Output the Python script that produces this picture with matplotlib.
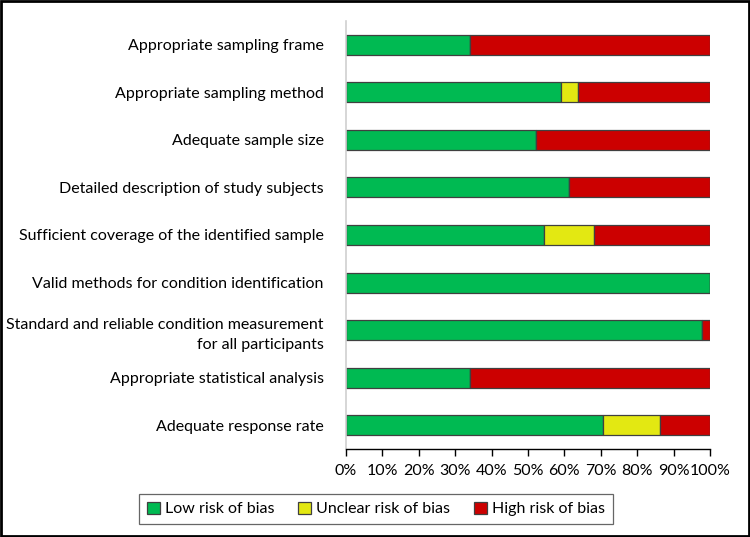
import matplotlib
matplotlib.use("Agg")
import matplotlib.pyplot as plt
from matplotlib.patches import Rectangle

# items of the risk-of-bias tool, top to bottom
categories = [
    "Appropriate sampling frame",
    "Appropriate sampling method",
    "Adequate sample size",
    "Detailed description of study subjects",
    "Sufficient coverage of the identified sample",
    "Valid methods for condition identification",
    "Standard and reliable condition measurement\nfor all participants",
    "Appropriate statistical analysis",
    "Adequate response rate",
]

# percentages
low_risk = [34.1, 59.1, 52.3, 61.4, 54.5, 100.0, 97.7, 34.1, 70.5]
unclear_risk = [0.0, 4.5, 0.0, 0.0, 13.6, 0.0, 0.0, 0.0, 15.9]
high_risk = [65.9, 36.4, 47.7, 38.6, 31.9, 0.0, 2.3, 65.9, 13.6]

series_names = ["Low risk of bias", "Unclear risk of bias", "High risk of bias"]
colors = ["#00BA52", "#E3E812", "#CC0000"]

plt.rcParams["font.family"] = ["Lato", "DejaVu Sans"]
fs = 11.5

fig = plt.figure(figsize=(7.5, 5.37), dpi=100)
ax = fig.add_axes([346 / 750, 1 - 449 / 537, 364 / 750, 428 / 537])

ypos = list(range(len(categories)))
left = [0.0] * len(categories)
for vals, name, col in zip([low_risk, unclear_risk, high_risk], series_names, colors):
    ax.barh(ypos, vals, left=left, height=0.42, color=col, edgecolor="#404040",
            linewidth=0.9, label=name)
    left = [a + b for a, b in zip(left, vals)]

ax.set_ylim(len(categories) - 0.5, -0.5)
ax.set_xlim(0, 100)
ax.set_xticks(range(0, 101, 10))
ax.set_xticklabels([f"{v}%" for v in range(0, 101, 10)], fontsize=fs)
ax.set_yticks(ypos)
ax.set_yticklabels(categories, fontsize=fs, linespacing=1.55)
ax.tick_params(axis="y", length=0, pad=16)
ax.tick_params(axis="x", direction="out", length=5, width=1, color="black", pad=6)

for s in ["top", "right"]:
    ax.spines[s].set_visible(False)
ax.spines["left"].set_color("#d0d0d0")
ax.spines["left"].set_linewidth(1.2)
ax.spines["bottom"].set_color("black")
ax.spines["bottom"].set_linewidth(1)

leg = fig.legend(loc="center", bbox_to_anchor=(376 / 750, 1 - 509 / 537), ncol=3,
                 fontsize=fs, frameon=True, fancybox=False, edgecolor="#404040",
                 handlelength=0.8, handleheight=0.8, handletextpad=0.3,
                 columnspacing=1.5, borderpad=0.5)
leg.get_frame().set_linewidth(0.9)

# black frame around the whole figure
fig.patches.append(Rectangle((0.001, 0.001), 0.998, 0.998, transform=fig.transFigure,
                             fill=False, edgecolor="black", linewidth=2))

fig.savefig("out.png", dpi=100)
